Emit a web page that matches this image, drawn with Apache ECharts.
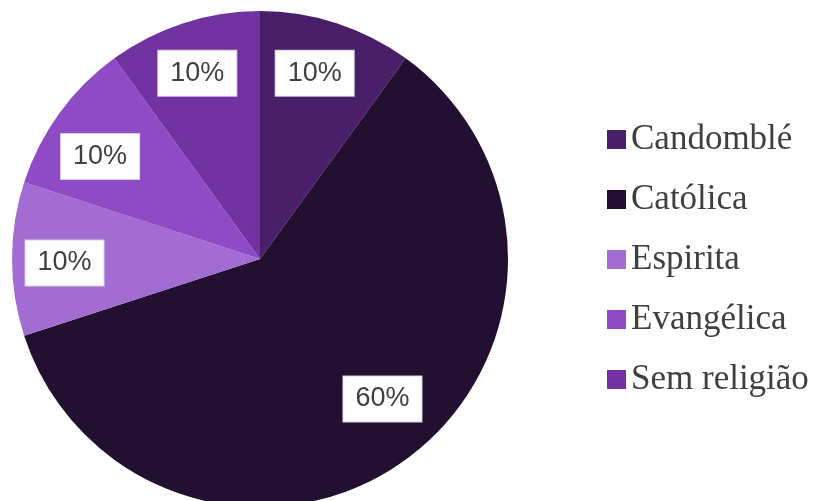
<!DOCTYPE html>
<html>
<head>
<meta charset="utf-8">
<script src="https://cdn.jsdelivr.net/npm/echarts@6/dist/echarts.min.js"></script>
<style>
  html, body { margin: 0; padding: 0; background: #ffffff; }
  #chart { width: 819px; height: 501px; }
</style>
</head>
<body>
<div id="chart"></div>
<script>
// Religião declarada (percentual)
const categories = ['Candomblé', 'Católica', 'Espirita', 'Evangélica', 'Sem religião'];
const values = [10, 60, 10, 10, 10];
const colors = ['#4a1f69', '#230f30', '#a26cd3', '#8f4bc6', '#7232a2'];

// small nudges of each percentage box away from the ring midpoint
const labelNudge = [[-6, 1], [7, -19], [1, 4], [-1, 13], [-2, 1]];

const pieData = categories.map((name, i) => ({
  name,
  value: values[i],
  itemStyle: { color: colors[i] }
}));

const center = [260, 259];
const outer = 248;

const chart = echarts.init(document.getElementById('chart'), null, { renderer: 'canvas' });

chart.setOption({
  animation: false,
  backgroundColor: '#ffffff',
  legend: {
    orient: 'vertical',
    left: 602,
    top: 116,
    itemWidth: 19,
    itemHeight: 19,
    itemGap: 23,
    icon: 'rect',
    data: categories.map((name, i) => ({ name, itemStyle: { color: colors[i] } })),
    textStyle: {
      fontFamily: '"Liberation Serif", "DejaVu Serif", serif',
      fontSize: 35,
      lineHeight: 37,
      color: '#404040',
      padding: [0, 0, 0, 0]
    }
  },
  series: [
    {
      // filled slices
      type: 'pie',
      center,
      radius: [0, outer],
      startAngle: 90,
      clockwise: true,
      label: { show: false },
      labelLine: { show: false },
      silent: true,
      data: pieData
    },
    {
      // transparent ring used to place the percentage boxes near the rim
      type: 'pie',
      center,
      radius: [outer * 0.56, outer],
      startAngle: 90,
      clockwise: true,
      silent: true,
      itemStyle: { color: 'rgba(0,0,0,0)' },
      labelLine: { show: false },
      label: {
        show: true,
        position: 'inside',
        formatter: p => p.value + '%',
        fontFamily: '"Liberation Sans", Arial, sans-serif',
        fontSize: 27,
        color: '#404040',
        backgroundColor: '#ffffff',
        borderColor: '#d8d0dc',
        borderWidth: 1,
        padding: [9, 12, 9, 12]
      },
      labelLayout: params => ({
        dx: labelNudge[params.dataIndex][0],
        dy: labelNudge[params.dataIndex][1]
      }),
      data: categories.map((name, i) => ({ name, value: values[i] }))
    }
  ]
});
</script>
</body>
</html>
